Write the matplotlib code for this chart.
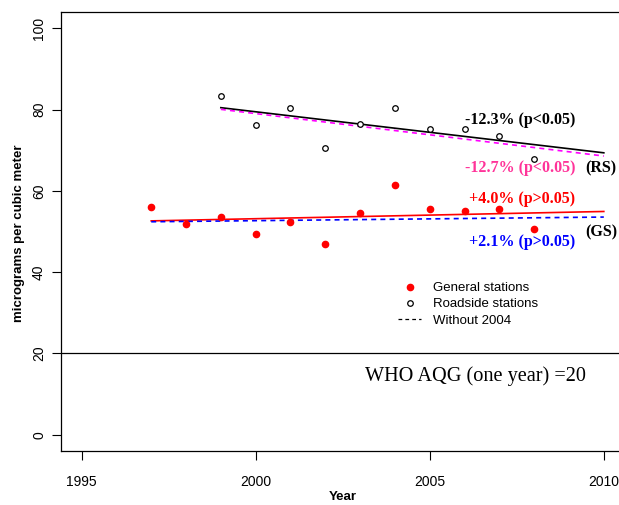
import matplotlib
matplotlib.use("Agg")
import matplotlib.pyplot as plt
from matplotlib.lines import Line2D
import numpy as np

# annual means, micrograms per cubic meter
years_gs = [1997, 1998, 1999, 2000, 2001, 2002, 2003, 2004, 2005, 2006, 2007, 2008]
general = [56.0, 51.9, 53.6, 49.4, 52.3, 47.0, 54.5, 61.5, 55.6, 55.0, 55.6, 50.7]
years_rs = [1999, 2000, 2001, 2002, 2003, 2004, 2005, 2006, 2007, 2008]
roadside = [83.3, 76.2, 80.5, 70.5, 76.4, 80.5, 75.3, 75.3, 73.4, 67.8]
who_aqg = 20
trend_labels = ["-12.3% (p<0.05)", "-12.7% (p<0.05)", "+4.0% (p>0.05)", "+2.1% (p>0.05)"]

serif = "Liberation Serif"
sans = "Liberation Sans"


# linear trend, optionally leaving out one year
def trend(x, y, end, skip=None):
  x = np.array(x, dtype=float)
  y = np.array(y, dtype=float)
  if skip is not None:
    keep = x != skip
    x, y = x[keep], y[keep]
  b, a = np.polyfit(x, y, 1)
  xs = np.array([x.min(), end])
  return xs, a + b * xs


fig = plt.figure(figsize=(6.19, 5.05), dpi=100)
ax = fig.add_axes([60.7 / 619, 1 - 451 / 505, 564 / 619, 439 / 505])

#trend lines, all years and without 2004
x, y = trend(years_rs, roadside, 2010)
ax.plot(x, y, color="black", lw=1.2)
x, y = trend(years_rs, roadside, 2010, skip=2004)
ax.plot(x, y, color="#ff00ff", lw=1.2, dashes=(3, 2.5))
x, y = trend(years_gs, general, 2010)
ax.plot(x, y, color="red", lw=1.2)
x, y = trend(years_gs, general, 2010, skip=2004)
ax.plot(x, y, color="blue", lw=1.2, dashes=(3, 2.5))

#station points
ax.plot(years_gs, general, "o", color="red", ms=4.5, mec="red")
ax.plot(years_rs, roadside, "o", mfc="white", mec="black", ms=4, mew=0.9)

ax.axhline(who_aqg, color="black", lw=0.9)

tkw = dict(fontfamily=serif, fontweight="bold", fontsize=11.5, va="center")
ax.text(2009.18, 77.4, trend_labels[0], color="black", ha="right", **tkw)
ax.text(2009.18, 65.6, trend_labels[1], color="#ff3399", ha="right", **tkw)
ax.text(2009.47, 65.6, "(RS)", color="black", ha="left", **tkw)
ax.text(2009.18, 58.0, trend_labels[2], color="red", ha="right", **tkw)
ax.text(2009.18, 47.3, trend_labels[3], color="blue", ha="right", **tkw)
ax.text(2009.47, 49.9, "(GS)", color="black", ha="left", **tkw)

ax.text(2006.32, 14.5, "WHO AQG (one year) =" + str(who_aqg), fontfamily=serif,
        fontsize=14.6, ha="center", va="center")

handles = [
  Line2D([], [], ls="none", marker="o", color="red", ms=4.5),
  Line2D([], [], ls="none", marker="o", mfc="white", mec="black", ms=4, mew=0.9),
  Line2D([], [], color="black", lw=0.9, dashes=(3, 2.5)),
]
ax.legend(handles, ["General stations", "Roadside stations", "Without 2004"],
          loc="upper left", bbox_to_anchor=(398 / 619, 1 - 282 / 505),
          bbox_transform=fig.transFigure, frameon=False, borderpad=0,
          borderaxespad=0, handlelength=1.75, handletextpad=0.9,
          labelspacing=0.3, prop={"family": sans, "size": 9.5})

ax.set_xlim(1994.4, 2010.6)
ax.set_ylim(-4, 104)
ax.set_xticks([1995, 2000, 2005, 2010])
ax.set_yticks([0, 20, 40, 60, 80, 100])
ax.tick_params(length=6.5, width=0.8, direction="out", labelsize=10)
ax.tick_params(axis="x", pad=10.5)
ax.tick_params(axis="y", pad=4)
for lab in ax.get_xticklabels() + ax.get_yticklabels():
  lab.set_fontfamily(sans)
for lab in ax.get_yticklabels():
  lab.set_rotation(90)
  lab.set_va("center")
for s in ax.spines.values():
  s.set_linewidth(0.9)

fig.text(342.7 / 619, 1 - 497 / 505, "Year", fontfamily=sans, fontweight="bold",
         fontsize=9.5, ha="center", va="center")
fig.text(19 / 619, 1 - 233 / 505, "micrograms per cubic meter", fontfamily=sans,
         fontweight="bold", fontsize=9.5, rotation=90, ha="center", va="center")

fig.savefig("out.png", dpi=100)
